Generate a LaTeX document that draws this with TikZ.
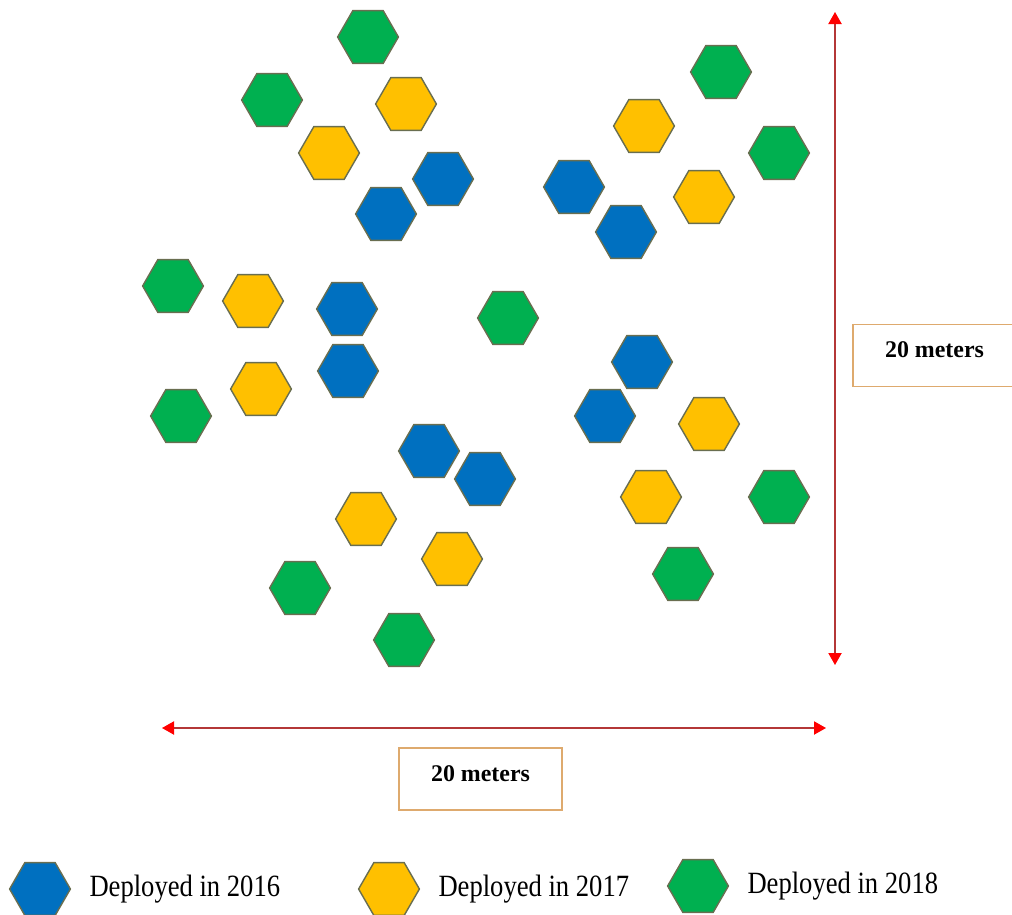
\documentclass[tikz,border=0pt]{standalone}
\usepackage{fontspec}
\setmainfont{Liberation Serif}
\newfontfamily\legfont[FakeStretch=0.86]{Liberation Serif}
\usepackage{tikz}
\usetikzlibrary{positioning,shapes.geometric,arrows.meta}
\definecolor{dep16}{RGB}{0,112,192}
\definecolor{dep17}{RGB}{255,192,0}
\definecolor{dep18}{RGB}{0,176,80}
\definecolor{hexline}{RGB}{105,110,80}
\definecolor{dimline}{RGB}{180,55,55}
\definecolor{boxline}{RGB}{222,170,110}
\tikzstyle{hex} = [regular polygon, regular polygon sides=6, minimum size=1.52cm,
    inner sep=0pt, draw=hexline, line width=1pt]
\tikzstyle{hex16} = [hex, fill=dep16]
\tikzstyle{hex17} = [hex, fill=dep17]
\tikzstyle{hex18} = [hex, fill=dep18]
\tikzstyle{dim} = [draw=dimline, line width=1pt,
    {Triangle[red,length=0.3cm,width=0.33cm]}-{Triangle[red,length=0.3cm,width=0.33cm]}]
\tikzstyle{dimbox} = [draw=boxline, line width=1.3pt, minimum width=4.075cm,
    minimum height=1.55cm, text height=0.35cm, text depth=0.25cm,
    font=\fontsize{17}{20}\selectfont\bfseries]
\tikzstyle{legtext} = [font=\legfont\fontsize{22}{24}\selectfont, inner sep=0pt]

\begin{document}
\begin{tikzpicture}[x=0.025cm, y=-0.025cm]
    \clip (0,0) rectangle (1012,914);
    % We start by placing the sensors
    \foreach \x/\y [count=\i] in {443/179, 386/214, 574/187, 626/232, 347/309,
        348/371, 642/362, 605/416, 429/451, 485/479}
        \node [hex16] (blue\i) at (\x,\y) {};
    \foreach \x/\y [count=\i] in {406/104, 329/153, 644/126, 704/197, 253/301,
        261/389, 709/424, 366/519, 651/497, 452/559}
        \node [hex17] (yellow\i) at (\x,\y) {};
    \foreach \x/\y [count=\i] in {368/37, 272/100, 721/72, 779/153, 173/286,
        508/318, 181/416, 779/497, 300/588, 683/574, 404/640}
        \node [hex18] (green\i) at (\x,\y) {};

    % The two dimension arrows with their boxes
    \coordinate (vtop) at (835,12);
    \coordinate (vbot) at (835,665);
    \coordinate (hleft) at (162,728);
    \coordinate (hright) at (826,728);
    \draw [dim] (vtop) -- (vbot);
    \draw [dim] (hleft) -- (hright);
    \node [dimbox] (vlabel) at (934.5,355.5) {20 meters};
    \node [dimbox] (hlabel) at (480.5,779) {20 meters};

    % Legend at the bottom
    \node [hex16] (leg16) at (40,889) {};
    \node [hex17] (leg17) at (389,889) {};
    \node [hex18] (leg18) at (698,886) {};
    \node [legtext, right=0.45cm of leg16] (txt16) {Deployed in 2016};
    \node [legtext, right=0.45cm of leg17] (txt17) {Deployed in 2017};
    \node [legtext, right=0.45cm of leg18] (txt18) {Deployed in 2018};
\end{tikzpicture}
\end{document}
